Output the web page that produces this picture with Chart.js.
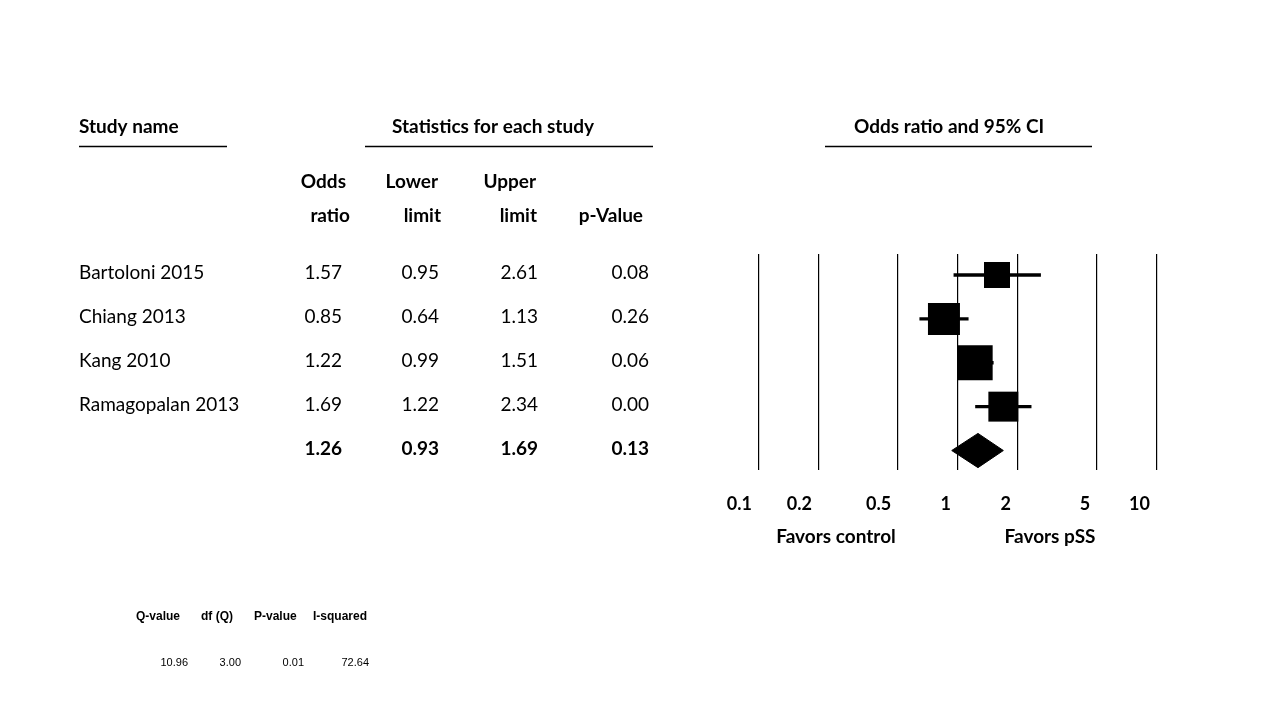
<!DOCTYPE html>
<html><head><meta charset="utf-8">
<script src="https://cdn.jsdelivr.net/npm/chart.js@4.4.1/dist/chart.umd.min.js"></script>
<style>html,body{margin:0;padding:0;background:#fff}#wrap{width:1280px;height:720px;position:relative}canvas{display:block}</style>
</head><body><div id="wrap"><canvas id="c" width="1280" height="720"></canvas></div>
<script>
// ---- data ----
const studies = ['Bartoloni 2015', 'Chiang 2013', 'Kang 2010', 'Ramagopalan 2013'];
const oddsRatio = [1.57, 0.85, 1.22, 1.69];
const lowerLimit = [0.95, 0.64, 0.99, 1.22];
const upperLimit = [2.61, 1.13, 1.51, 2.34];
const pValue = [0.08, 0.26, 0.06, 0.00];
const relWeight = [17.7, 26.8, 32.0, 23.5]; // relative weights (%)
const summaryOR = 1.26, summaryLower = 0.93, summaryUpper = 1.69, summaryP = 0.13;
const xTicks = [0.1, 0.2, 0.5, 1, 2, 5, 10];
const xTickLabels = ['0.1', '0.2', '0.5', '1', '2', '5', '10'];
const hetHeaders = ['Q-value', 'df (Q)', 'P-value', 'I-squared'];
const hetValues = [10.96, 3.00, 0.01, 72.64];

// ---- styling constants ----
const F = 'Lato, "Open Sans", sans-serif';
const BOX_K = 6.18;      // box side (px) = BOX_K * sqrt(weight)
const DIAMOND_H = 0.39;  // diamond half-height in row units
const summaryRow = studies.length;

const datasets = [];
datasets.push({
  type: 'scatter',
  data: oddsRatio.map((v, i) => ({x: v, y: i})),
  pointStyle: 'rect',
  pointRadius: ctx => BOX_K * Math.sqrt(relWeight[ctx.dataIndex]) / Math.SQRT2,
  backgroundColor: '#000', borderColor: '#000', borderWidth: 0,
  pointHoverRadius: ctx => BOX_K * Math.sqrt(relWeight[ctx.dataIndex]) / Math.SQRT2
});
studies.forEach((s, i) => {
  datasets.push({
    type: 'line',
    data: [{x: lowerLimit[i], y: i}, {x: upperLimit[i], y: i}],
    borderColor: '#000', borderWidth: 3.3, pointRadius: 0, fill: false
  });
});
datasets.push({
  type: 'line',
  data: [
    {x: summaryLower, y: summaryRow},
    {x: summaryOR, y: summaryRow - DIAMOND_H},
    {x: summaryUpper, y: summaryRow},
    {x: summaryOR, y: summaryRow + DIAMOND_H},
    {x: summaryLower, y: summaryRow}
  ],
  borderColor: '#000', backgroundColor: '#000', borderWidth: 1,
  pointRadius: 0, fill: 'shape', tension: 0
});

const textPlugin = {
  id: 'forestText',
  afterDraw(chart) {
    const c = chart.ctx;
    c.save();
    c.fillStyle = '#000';
    c.strokeStyle = '#000';
    c.textBaseline = 'alphabetic';
    const txt = (t, x, y, align, font) => { c.font = font; c.textAlign = align; c.fillText(t, x, y); };
    const hline = (x1, x2, y) => { c.beginPath(); c.lineWidth = 1.3; c.moveTo(x1, y); c.lineTo(x2, y); c.stroke(); };
    const B = 'bold 19px ' + F, R = '19px ' + F;
    // titles
    txt('Study name', 79, 133, 'left', B);
    txt('Statistics for each study', 493, 133, 'center', B);
    txt('Odds ratio and 95% CI', 949, 133, 'center', B);
    hline(79, 227, 146.5); hline(365, 653, 146.5); hline(825, 1092, 146.5);
    // column headers
    txt('Odds', 346, 188, 'right', B);
    txt('Lower', 438, 188, 'right', B);
    txt('Upper', 536, 188, 'right', B);
    txt('ratio', 350, 222, 'right', B);
    txt('limit', 441, 222, 'right', B);
    txt('limit', 537, 222, 'right', B);
    txt('p-Value', 643, 222, 'right', B);
    // rows
    const cols = [342, 439, 538, 649];
    const yS = chart.scales.y;
    studies.forEach((s, i) => {
      const y = yS.getPixelForValue(i) + 4;
      txt(s, 79, y, 'left', R);
      [oddsRatio[i], lowerLimit[i], upperLimit[i], pValue[i]].forEach((v, k) => txt(v.toFixed(2), cols[k], y, 'right', R));
    });
    const ys = yS.getPixelForValue(summaryRow) + 4;
    [summaryOR, summaryLower, summaryUpper, summaryP].forEach((v, k) => txt(v.toFixed(2), cols[k], ys, 'right', B));
    // favors
    txt('Favors control', 836, 543, 'center', B);
    txt('Favors pSS', 1050, 543, 'center', B);
    // heterogeneity
    const hx = [136, 201, 254, 313];
    hetHeaders.forEach((h, k) => txt(h, hx[k], 620, 'left', 'bold 12px "Liberation Sans", Arial, sans-serif'));
    const vx = [188, 241, 304, 369];
    hetValues.forEach((v, k) => txt(v.toFixed(2), vx[k], 666, 'right', '11px "Liberation Sans", Arial, sans-serif'));
    c.restore();
  }
};

new Chart(document.getElementById('c'), {
  type: 'scatter',
  data: {datasets},
  options: {
    responsive: false, animation: false, events: [],
    layout: {padding: {left: 759, right: 123, top: 254, bottom: 210}},
    plugins: {legend: {display: false}, tooltip: {enabled: false}},
    scales: {
      x: {
        type: 'logarithmic', min: 0.1, max: 10, position: 'bottom',
        afterBuildTicks: s => { s.ticks = xTicks.map(v => ({value: v})); },
        afterFit: s => { s.height = 40; },
        grid: {color: '#000', lineWidth: 1.2, drawTicks: false},
        border: {display: false},
        ticks: {
          autoSkip: false, maxRotation: 0, minRotation: 0,
          align: 'end', labelOffset: -7, padding: 23,
          color: '#000', font: {family: F, size: 18, weight: 'bold'},
          callback: v => xTickLabels[xTicks.indexOf(v)]
        }
      },
      y: {
        type: 'linear', reverse: true, min: -0.4786, max: 4.444, display: false
      }
    }
  },
  plugins: [textPlugin]
});
</script>
</body></html>
